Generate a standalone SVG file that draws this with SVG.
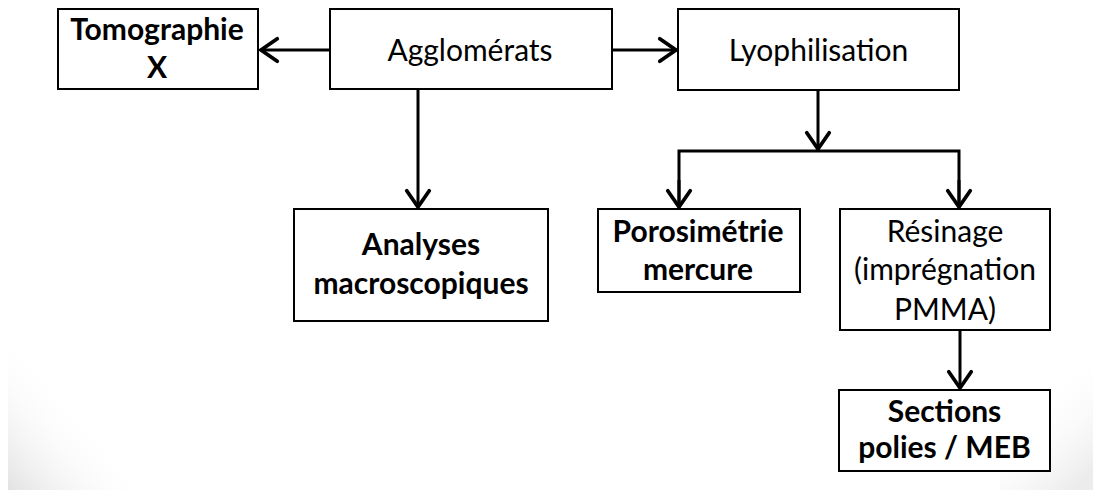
<svg xmlns="http://www.w3.org/2000/svg" width="1093" height="490" viewBox="0 0 1093 490">
  <style>
    .box { fill: #ffffff; stroke: #000000; stroke-width: 2; }
    .t { font-family: Lato, "Open Sans", "Liberation Sans", sans-serif; font-size: 30px; fill: #000000; text-anchor: middle; }
    .b { font-weight: bold; }
    .conn { fill: none; stroke: #000000; stroke-width: 3; }
  </style>
  <defs>
    <marker id="arr" markerUnits="userSpaceOnUse" markerWidth="30" markerHeight="30" viewBox="-16 -12 20 24" refX="0" refY="0" orient="auto">
      <path d="M-13,-9 L0,0 L-13,9" fill="none" stroke="#000000" stroke-width="3" stroke-linecap="round" stroke-linejoin="miter"/>
    </marker>
    <linearGradient id="shadeL" gradientUnits="userSpaceOnUse" x1="8" y1="490" x2="90" y2="418">
      <stop offset="0" stop-color="#e2e2e2"/>
      <stop offset="1" stop-color="#ffffff" stop-opacity="0"/>
    </linearGradient>
    <linearGradient id="shadeR" gradientUnits="userSpaceOnUse" x1="1093" y1="470" x2="1030" y2="400">
      <stop offset="0" stop-color="#ececec"/>
      <stop offset="1" stop-color="#ffffff" stop-opacity="0"/>
    </linearGradient>
  </defs>
  <rect x="0" y="0" width="1093" height="490" fill="#ffffff"/>
  <rect x="8" y="330" width="200" height="160" fill="url(#shadeL)"/>
  <rect x="1000" y="150" width="93" height="340" fill="url(#shadeR)"/>

  <g id="connectors">
    <line class="conn" x1="330" y1="50" x2="261" y2="50" marker-end="url(#arr)"/>
    <line class="conn" x1="612" y1="50" x2="676" y2="50" marker-end="url(#arr)"/>
    <line class="conn" x1="418" y1="89" x2="418" y2="207" marker-end="url(#arr)"/>
    <line class="conn" x1="818" y1="90" x2="818" y2="149" marker-end="url(#arr)"/>
    <path class="conn" d="M679,207 L679,151 L959,151 L959,207"/>
    <line class="conn" x1="679" y1="180" x2="679" y2="207" marker-end="url(#arr)"/>
    <line class="conn" x1="959" y1="180" x2="959" y2="207" marker-end="url(#arr)"/>
    <line class="conn" x1="960" y1="330" x2="960" y2="388" marker-end="url(#arr)"/>
  </g>

  <g id="tomographie">
    <rect class="box" x="58" y="9" width="200" height="80"/>
    <text class="t b" x="157" y="40">Tomographie</text>
    <text class="t b" x="157" y="78">X</text>
  </g>
  <g id="agglomerats">
    <rect class="box" x="330" y="9" width="282" height="80"/>
    <text class="t" x="470" y="61">Agglomérats</text>
  </g>
  <g id="lyophilisation">
    <rect class="box" x="678" y="9" width="281" height="81"/>
    <text class="t" x="818.5" y="61">Lyophilisation</text>
  </g>
  <g id="analyses">
    <rect class="box" x="294" y="209" width="254" height="112"/>
    <text class="t b" x="421" y="255">Analyses</text>
    <text class="t b" x="421" y="294">macroscopiques</text>
  </g>
  <g id="porosimetrie">
    <rect class="box" x="598" y="209" width="202" height="83"/>
    <text class="t b" x="698" y="242">Porosimétrie</text>
    <text class="t b" x="698" y="280">mercure</text>
  </g>
  <g id="resinage">
    <rect class="box" x="840" y="209" width="210" height="121"/>
    <text class="t" x="945" y="242">Résinage</text>
    <text class="t" x="945" y="280">(imprégnation</text>
    <text class="t" x="945" y="320">PMMA)</text>
  </g>
  <g id="sections">
    <rect class="box" x="839" y="390" width="211" height="81"/>
    <text class="t b" x="944.5" y="422">Sections</text>
    <text class="t b" x="944.5" y="458">polies / MEB</text>
  </g>
</svg>
